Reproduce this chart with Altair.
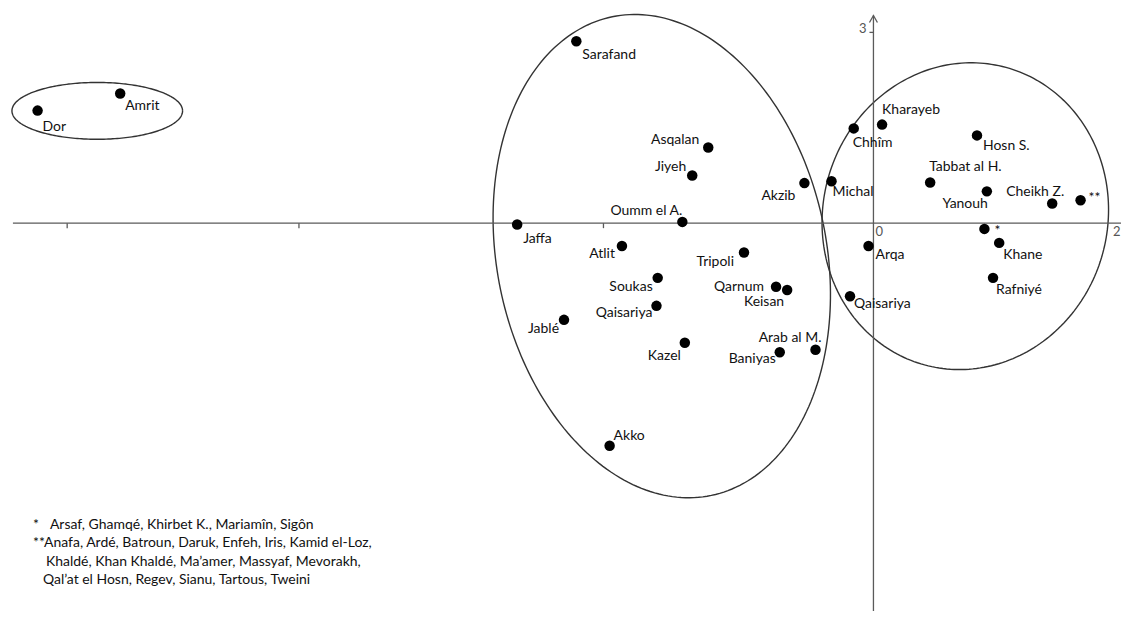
import altair as alt
import pandas as pd
import numpy as np

# ---------------- data ----------------
sites = ["Dor", "Amrit", "Sarafand", "Asqalan", "Jiyeh", "Oumm el A.", "Jaffa",
         "Atlit", "Tripoli", "Soukas", "Qaisariya", "Jablé", "Kazel", "Qarnum",
         "Keisan", "Arab al M.", "Baniyas", "Akko", "Akzib", "Michal", "Chhîm",
         "Kharayeb", "Hosn S.", "Tabbat al H.", "Yanouh", "Cheikh Z.", "**", "*",
         "Khane", "Arqa", "Rafniyé", "Qaisariya"]
dim1 = [-6.78, -6.11, -2.41, -1.34, -1.47, -1.55, -2.89,
        -2.04, -1.05, -1.75, -1.76, -2.51, -1.53, -0.79,
        -0.70, -0.47, -0.76, -2.14, -0.56, -0.34, -0.16,
        0.07, 0.84, 0.46, 0.92, 1.45, 1.68, 0.90,
        1.02, -0.04, 0.97, -0.19]
dim2 = [1.77, 2.04, 2.86, 1.19, 0.75, 0.02, -0.02,
        -0.36, -0.46, -0.86, -1.30, -1.52, -1.88, -1.00,
        -1.05, -1.99, -2.03, -3.50, 0.63, 0.66, 1.49,
        1.55, 1.38, 0.64, 0.50, 0.31, 0.36, -0.09,
        -0.31, -0.36, -0.86, -1.15]

footnote_lines = [
    "*",
    "Arsaf, Ghamqé, Khirbet K., Mariamîn, Sigôn",
    "**Anafa, Ardé, Batroun, Daruk, Enfeh, Iris, Kamid el-Loz,",
    "Khaldé, Khan Khaldé, Ma\u2019amer, Massyaf,  Mevorakh,",
    "Qal\u2019at el Hosn, Regev, Sianu, Tartous, Tweini",
]

x_tick_values = [-6.54, -4.66, -2.19]
axis_labels = ["0", "2", "3"]

# groups (ellipses): centre and shape coefficients in data units
ellipse_cx = [-6.296, -1.717, 0.745]
ellipse_cy = [1.766, -0.518, 0.110]
ellipse_xc = [0.692, 0.402, 0.0]
ellipse_xs = [0.0, 1.308, 1.162]
ellipse_yc = [0.0, -3.763, 2.41]
ellipse_ys = [0.447, 0.526, 0.10]

# ---------------- layout (label placement, pixels) ----------------
label_align = ["left", "left", "left", "right", "right", "right", "left",
               "right", "right", "right", "right", "right", "right", "right",
               "right", "right", "right", "left", "right", "left", "left",
               "left", "left", "left", "right", "right", "left", "left",
               "left", "left", "left", "left"]
label_dx = [5, 5, 6, -9, -6, 0, 6,
            -7, -10, -5, -4, -5, -4, -12,
            -3, 6, -4, 4, -9, 1, -1,
            0, 6, -1, 1, 12, 8, 10,
            4, 7, 3, 4]
label_dy = [16, 13, 14, -7, -8, -11, 15,
            8, 10, 9, 7, 9, 13, 0,
            12, -12, 7, -10, 13, 11, 15,
            -15, 11, -15, 13, -11, -2, 2,
            12, 9, 12, 8]

W, H = 1115, 603
XDOM = [-7.02, 2.008]
YDOM = [-6.09, 3.375]
KX = (XDOM[1] - XDOM[0]) / W   # data units per pixel
KY = (YDOM[1] - YDOM[0]) / H
FONT = "Lato"
AX = "#5a5a5a"
TXT = "#111111"

xs = alt.Scale(domain=XDOM, nice=False, zero=False)
ys = alt.Scale(domain=YDOM, nice=False, zero=False)

pts = pd.DataFrame({"site": sites, "d1": dim1, "d2": dim2,
                    "align": label_align, "dx": label_dx, "dy": label_dy})

# ellipse outlines
t = np.linspace(0, 2 * np.pi, 241)
rows = []
for i in range(len(ellipse_cx)):
    ex = ellipse_cx[i] + ellipse_xc[i] * np.cos(t) + ellipse_xs[i] * np.sin(t)
    ey = ellipse_cy[i] + ellipse_yc[i] * np.cos(t) + ellipse_ys[i] * np.sin(t)
    for k in range(len(t)):
        rows.append({"g": i, "k": k, "x": ex[k], "y": ey[k]})
ell = pd.DataFrame(rows)

ellipses = alt.Chart(ell).mark_line(color="#333333", strokeWidth=1.4).encode(
    x=alt.X("x:Q", scale=xs, axis=None),
    y=alt.Y("y:Q", scale=ys, axis=None),
    detail="g:N",
    order="k:Q",
)

# axes drawn as rules
haxis = alt.Chart(pd.DataFrame({"x1": [-6.98], "x2": [2.06], "y": [0.0]})).mark_rule(
    color=AX, strokeWidth=1.3).encode(
    x=alt.X("x1:Q", scale=xs, axis=None), x2="x2:Q",
    y=alt.Y("y:Q", scale=ys, axis=None))
vaxis = alt.Chart(pd.DataFrame({"x": [0.0], "y1": [-6.4], "y2": [3.265]})).mark_rule(
    color=AX, strokeWidth=1.3).encode(
    x=alt.X("x:Q", scale=xs, axis=None),
    y=alt.Y("y1:Q", scale=ys, axis=None), y2="y2:Q")
arrow = alt.Chart(pd.DataFrame({"x": [0.0], "y": [3.265]})).mark_point(
    shape="M-0.57,1L0,0L0.57,1", size=196, filled=False, color=AX,
    strokeWidth=1.3, opacity=1).encode(
    x=alt.X("x:Q", scale=xs, axis=None), y=alt.Y("y:Q", scale=ys, axis=None))
xticks = alt.Chart(pd.DataFrame({"x": x_tick_values, "y": [0.0] * len(x_tick_values)})).mark_point(
    shape="M0,0L0,1", size=100, filled=False, color=AX, strokeWidth=1.3, opacity=1).encode(
    x=alt.X("x:Q", scale=xs, axis=None), y=alt.Y("y:Q", scale=ys, axis=None))
ytick = alt.Chart(pd.DataFrame({"x": [0.0], "y": [3.0]})).mark_point(
    shape="M0,0L-1,0", size=64, filled=False, color=AX, strokeWidth=1.3, opacity=1).encode(
    x=alt.X("x:Q", scale=xs, axis=None), y=alt.Y("y:Q", scale=ys, axis=None))

axlab = pd.DataFrame({"x": [0.0, 2.0, 0.0], "y": [0.0, 0.0, 3.0], "t": axis_labels})
lab0 = alt.Chart(axlab.iloc[[0]]).mark_text(
    font=FONT, fontSize=13, color="#555555", align="left", baseline="middle", dx=2, dy=9).encode(
    x=alt.X("x:Q", scale=xs, axis=None), y=alt.Y("y:Q", scale=ys, axis=None), text="t:N")
lab2 = alt.Chart(axlab.iloc[[1]]).mark_text(
    font=FONT, fontSize=13, color="#555555", align="left", baseline="middle", dx=-7, dy=9).encode(
    x=alt.X("x:Q", scale=xs, axis=None), y=alt.Y("y:Q", scale=ys, axis=None), text="t:N")
lab3 = alt.Chart(axlab.iloc[[2]]).mark_text(
    font=FONT, fontSize=13, color="#555555", align="right", baseline="middle", dx=-7, dy=-3).encode(
    x=alt.X("x:Q", scale=xs, axis=None), y=alt.Y("y:Q", scale=ys, axis=None), text="t:N")

dots = alt.Chart(pts).mark_circle(size=110, color="black", opacity=1).encode(
    x=alt.X("d1:Q", scale=xs, axis=None), y=alt.Y("d2:Q", scale=ys, axis=None))

label_layers = []
for al in ["left", "right"]:
    label_layers.append(
        alt.Chart(pts).transform_filter(alt.datum.align == al).transform_calculate(
            lx=f"datum.d1 + datum.dx * {KX}",
            ly=f"datum.d2 - datum.dy * {KY}",
        ).mark_text(
            font=FONT, fontSize=14, color=TXT, align=al, baseline="middle").encode(
            x=alt.X("lx:Q", scale=xs, axis=None),
            y=alt.Y("ly:Q", scale=ys, axis=None),
            text="site:N")
    )

foot_x = [25, 42, 25, 38, 35]
foot_y = [517, 517, 535, 554, 572]
foot_layers = []
for i, line in enumerate(footnote_lines):
    foot_layers.append(
        alt.Chart(pd.DataFrame({"t": [line]})).mark_text(
            font=FONT, fontSize=14, color=TXT, align="left", baseline="middle").encode(
            x=alt.value(foot_x[i]), y=alt.value(foot_y[i]), text="t:N")
    )

chart = alt.layer(
    ellipses, haxis, vaxis, arrow, xticks, ytick, lab0, lab2, lab3, dots,
    *label_layers, *foot_layers
).properties(
    width=W, height=H, padding=0,
    autosize=alt.AutoSizeParams(type="none"),
    background="white",
).configure_view(stroke=None)

chart.save("out.html", embed_options={"renderer": "svg", "actions": False})
